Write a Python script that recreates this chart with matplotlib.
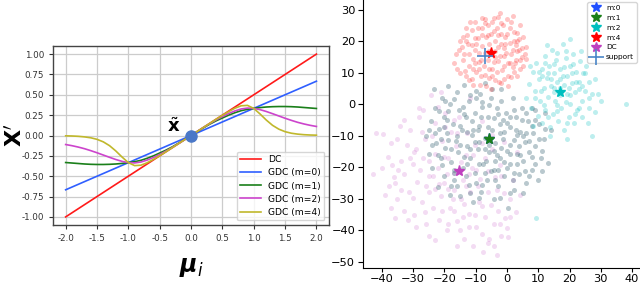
import matplotlib
matplotlib.use("Agg")
import matplotlib.pyplot as plt
import numpy as np

# ---------------- left panel data ----------------
dc_x = [-2.0, 2.0]
dc_y = [-1.0, 1.0]
m0_x = [-2.0, 2.0]
m0_y = [-0.667, 0.667]

curve_x = [-2.0, -1.9, -1.8, -1.7, -1.6, -1.5, -1.4, -1.3, -1.2, -1.1, -1.0,
           -0.9, -0.8, -0.7, -0.6, -0.5, -0.4, -0.3, -0.2, -0.1, 0.0,
           0.1, 0.2, 0.3, 0.4, 0.5, 0.6, 0.7, 0.8, 0.9, 1.0,
           1.1, 1.2, 1.3, 1.4, 1.5, 1.6, 1.7, 1.8, 1.9, 2.0]
m1_y = [-0.332, -0.338, -0.344, -0.350, -0.354, -0.356, -0.356, -0.354, -0.350, -0.343, -0.333,
        -0.322, -0.305, -0.280, -0.250, -0.215, -0.180, -0.140, -0.095, -0.048, 0.0,
        0.048, 0.095, 0.140, 0.180, 0.215, 0.250, 0.280, 0.305, 0.322, 0.333,
        0.343, 0.350, 0.354, 0.356, 0.356, 0.354, 0.350, 0.344, 0.338, 0.332]
m2_y = [-0.111, -0.125, -0.142, -0.162, -0.186, -0.212, -0.240, -0.268, -0.295, -0.318, -0.333,
        -0.337, -0.326, -0.302, -0.270, -0.233, -0.192, -0.147, -0.100, -0.050, 0.0,
        0.050, 0.100, 0.147, 0.192, 0.233, 0.270, 0.302, 0.326, 0.337, 0.333,
        0.318, 0.295, 0.268, 0.240, 0.212, 0.186, 0.162, 0.142, 0.125, 0.111]
m4_y = [-0.004, -0.006, -0.010, -0.017, -0.028, -0.047, -0.078, -0.125, -0.190, -0.265, -0.333,
        -0.370, -0.365, -0.335, -0.293, -0.248, -0.200, -0.150, -0.100, -0.050, 0.0,
        0.050, 0.100, 0.150, 0.200, 0.248, 0.293, 0.335, 0.365, 0.370, 0.333,
        0.265, 0.190, 0.125, 0.078, 0.047, 0.028, 0.017, 0.010, 0.006, 0.004]
legend_labels = ["DC", "GDC (m=0)", "GDC (m=1)", "GDC (m=2)", "GDC (m=4)"]
xticks_left = [-2.0, -1.5, -1.0, -0.5, 0.0, 0.5, 1.0, 1.5, 2.0]
yticks_left = [-1.0, -0.75, -0.5, -0.25, 0.0, 0.25, 0.5, 0.75, 1.0]

# ---------------- right panel data ----------------
red_pts = [(-16.8, 13.1), (-15.2, 17.4), (-14.1, 21.3), (-13.3, 10.6), (-12.4, 19.2), (-12.1, 7.8),
           (-11.2, 23.5), (-11.0, 14.3), (-10.3, 26.1), (-10.1, 17.2), (-9.8, 10.4), (-9.2, 21.1),
           (-9.0, 13.5), (-8.7, 6.2), (-8.1, 24.3), (-7.9, 18.4), (-8.2, 9.1), (-7.1, 27.2),
           (-6.8, 21.4), (-7.3, 12.2), (-6.6, 5.9), (-6.0, 25.1), (-5.8, 19.3), (-6.2, 14.2),
           (-5.9, 8.4), (-5.2, 22.4), (-4.8, 11.3), (-5.1, 4.9), (-4.1, 27.3), (-3.9, 20.2),
           (-4.2, 13.4), (-3.8, 7.7), (-3.1, 24.4), (-2.8, 18.3), (-3.2, 10.2), (-2.1, 29.1),
           (-1.9, 22.2), (-2.2, 15.4), (-1.8, 6.8), (-1.2, 25.3), (-0.8, 19.1), (-1.1, 12.2),
           (0.1, 22.4), (-0.2, 16.3), (0.3, 9.1), (1.2, 26.2), (0.9, 19.4), (1.1, 13.2),
           (2.2, 23.1), (1.8, 17.3), (2.1, 10.3), (3.1, 20.2), (2.9, 14.1), (4.2, 25.1),
           (3.8, 17.4), (4.1, 11.2), (5.2, 21.3), (4.9, 15.1), (6.1, 18.2), (-14.2, 14.1),
           (-13.1, 24.2), (-12.2, 16.1), (-10.8, 11.3), (-10.2, 21.2), (-9.1, 16.2), (-8.3, 14.1),
           (-8.1, 27.4), (-6.9, 16.3), (-6.2, 22.1), (-5.7, 11.1), (-4.8, 26.2), (-3.7, 17.1),
           (-4.3, 23.3), (-2.9, 13.8), (-2.7, 7.1), (-1.9, 19.2), (-1.7, 10.8), (-0.9, 15.2),
           (-0.6, 21.3), (0.2, 13.1), (0.1, 27.2), (1.3, 16.1), (1.2, 8.7), (2.3, 20.2),
           (2.4, 13.1), (3.3, 17.1), (3.2, 22.8), (4.3, 14.2), (-15.1, 9.8), (-16.2, 16.1),
           (-13.2, 20.1), (-11.3, 8.1), (-9.3, 24.2), (-10.1, 13.2), (-6.9, 9.2), (-2.8, 27.9),
           (0.2, 5.9), (5.1, 12.2), (-12.3, 12.3), (-14.3, 18.2), (-0.9, 8.2), (3.1, 8.9),
           (6.0, 14.3), (-16.1, 11.2), (-15.1, 20.1), (-13.1, 8.9), (-12.9, 22.1), (-11.1, 18.9),
           (-10.9, 6.1), (-9.9, 19.1), (-8.9, 11.1), (-7.9, 22.1), (-6.9, 25.9), (-5.9, 17.1),
           (-4.9, 8.9), (-3.9, 15.1), (-2.9, 21.9), (-1.9, 25.9), (-0.9, 17.9), (0.9, 24.1),
           (1.9, 11.9), (2.9, 18.9), (3.9, 20.9), (4.9, 17.9), (5.9, 16.1), (-13.9, 15.9),
           (-11.9, 26.1), (1.9, 28.1)]
cyan_pts = [(6.2, 2.1), (7.1, 6.3), (7.8, -1.2), (8.3, 10.2), (8.9, 4.1), (9.2, 13.1), (9.8, -3.8),
            (10.1, 7.9), (10.4, 1.2), (11.1, 11.2), (11.3, -5.9), (11.8, 5.1), (12.1, 15.3),
            (12.2, -1.8), (12.9, 8.4), (13.1, 2.2), (13.4, 12.1), (13.8, -7.1), (14.1, 5.8),
            (14.3, 17.2), (14.7, -3.1), (15.1, 10.1), (15.2, 0.9), (15.8, 14.2), (16.1, 7.2),
            (16.2, -5.2), (16.9, 2.9), (17.1, 11.3), (17.3, -1.1), (17.8, 19.1), (18.1, 6.1),
            (18.2, -8.2), (18.9, 14.8), (19.1, 3.2), (19.3, 9.1), (19.8, -3.9), (20.1, 12.2),
            (20.2, 0.1), (20.8, 6.9), (21.1, 16.1), (21.3, -6.1), (21.9, 3.8), (22.1, 10.3),
            (22.4, -1.9), (23.1, 7.2), (23.2, 13.9), (23.9, 1.1), (24.1, -4.1), (24.3, 9.8),
            (25.1, 4.2), (25.2, 12.1), (26.1, -1.2), (26.3, 7.1), (27.2, 3.3), (27.1, -10.2),
            (28.1, 8.1), (28.2, -2.3), (29.2, 3.4), (30.1, 1.2), (38.1, 0.1), (9.3, -36.2),
            (10.2, 10.3), (11.9, -0.3), (13.2, 9.9), (14.9, 3.9), (15.9, -2.1), (16.8, 5.1),
            (17.9, 8.9), (18.8, 0.8), (19.9, 5.1), (20.9, 9.9), (21.8, -3.2), (22.9, 4.9),
            (12.8, 18.9), (23.8, 17.1), (19.2, -10.9), (7.2, 12.1), (13.9, -10.1), (25.8, -5.8),
            (8.2, -6.9), (20.1, 20.6), (16.1, 16.4), (9.1, 1.9), (10.9, 4.1), (12.1, 13.1),
            (13.1, -3.9), (14.1, 8.1), (15.1, 12.9), (16.1, -0.1), (17.1, 7.9), (18.1, 11.9),
            (19.1, -6.1), (20.1, 2.9), (21.1, 12.9), (22.1, 7.1), (23.1, -1.1), (24.1, 5.9),
            (25.1, 9.9), (26.1, 1.9), (15.1, 5.1), (18.9, 16.9), (11.1, 8.9)]
slate_pts = [(-25.8, -10.2), (-25.1, -15.8), (-24.2, -5.3), (-23.9, -20.1), (-23.1, -1.2),
             (-22.8, -12.3), (-22.1, -26.2), (-21.9, -7.8), (-21.2, -17.1), (-20.9, 2.1),
             (-20.3, -3.9), (-20.1, -22.8), (-19.8, -13.9), (-19.2, -9.1), (-18.9, 5.8),
             (-18.2, -28.9), (-18.1, 0.2), (-17.8, -18.2), (-17.2, -6.2), (-16.9, -24.1),
             (-16.3, -11.8), (-16.1, 3.9), (-15.8, -15.1), (-15.2, -1.9), (-14.9, -29.2),
             (-14.3, -8.3), (-14.1, -20.2), (-13.8, 6.1), (-13.2, -4.1), (-12.9, -13.2),
             (-12.3, -25.8), (-12.1, 1.1), (-11.8, -17.1), (-11.2, -9.9), (-10.9, -31.2),
             (-10.3, -2.9), (-10.1, -21.9), (-9.8, 4.1), (-9.2, -14.1), (-8.9, -6.8),
             (-8.3, -27.9), (-8.1, -0.9), (-7.8, -18.9), (-7.2, -10.8), (-6.9, 6.9),
             (-6.3, -24.1), (-6.1, -3.9), (-5.8, -15.1), (-5.2, 2.1), (-4.9, -8.1),
             (-4.3, -30.1), (-4.1, -20.9), (-3.8, -12.2), (-3.2, -1.1), (-2.9, -26.1),
             (-2.3, -6.2), (-2.1, -17.1), (-1.8, 4.8), (-1.2, -10.9), (-0.9, -22.8),
             (-0.3, -2.9), (-0.1, -14.8), (0.2, -32.9), (0.8, -7.1), (1.1, -19.1),
             (1.8, 1.9), (2.1, -11.2), (2.3, -27.2), (2.9, -4.1), (3.2, -15.9),
             (3.8, -22.1), (4.1, -8.9), (4.8, -1.2), (5.1, -18.1), (5.9, -12.1),
             (6.2, -25.1), (6.8, -5.2), (7.1, -15.2), (7.9, -20.8), (8.2, -9.1),
             (8.8, -1.9), (9.1, -13.1), (9.9, -24.2), (10.2, -6.2), (10.9, -17.1),
             (11.8, -11.1), (12.1, -2.8), (13.2, -18.8), (14.1, -8.2), (-24.9, -8.1),
             (-22.2, -16.2), (-19.1, -5.1), (-17.9, -14.1), (-16.8, -20.9), (-15.1, -6.9),
             (-13.9, -16.9), (-12.8, -8.9), (-11.1, -5.2), (-10.2, -12.1), (-9.1, -19.1),
             (-8.2, -4.1), (-7.1, -14.2), (-6.2, -7.1), (-5.1, -21.1), (-4.2, -4.2),
             (-3.1, -16.1), (-2.2, -9.1), (-1.1, -18.2), (0.1, -6.1), (0.9, -12.9),
             (1.9, -24.1), (2.8, -8.2), (3.9, -13.1), (4.9, -5.1), (6.1, -9.1),
             (7.1, -11.8), (8.1, -16.9), (-18.8, -2.1), (-14.2, -0.9), (-9.9, 1.9),
             (-5.9, -0.2), (-1.9, 1.1), (2.1, -1.9), (-21.1, -10.9), (-13.1, -22.9),
             (-7.9, -25.8), (-3.9, -24.2), (0.9, -28.2), (5.1, -28.1), (-11.9, -28.2),
             (9.1, -5.1), (11.1, -21.2), (-16.1, -10.1), (-9.2, -8.2), (-4.1, -14.8),
             (1.1, -15.9), (5.9, -21.1), (-2.9, -20.9), (-6.8, -18.1), (-11.8, -14.2),
             (-20.2, -7.2), (-8.7, 3.2), (-1.2, -4.9), (3.1, -18.9), (7.9, -1.2),
             (-23.2, 4.9), (-24.1, -12.9), (-23.1, -9.2), (-21.8, -2.1), (-20.8, -19.2),
             (-19.9, 0.9), (-18.9, -11.2), (-17.1, -21.9), (-16.9, 1.8), (-15.9, -26.1),
             (-14.9, -12.9), (-13.8, -3.1), (-12.9, -19.1), (-11.9, 3.1), (-10.9, -8.1),
             (-9.9, -24.9), (-8.9, -11.9), (-7.9, 0.8), (-6.9, -21.9), (-5.9, -12.9),
             (-4.9, 4.9), (-3.9, -18.1), (-2.9, -3.1), (-1.9, -13.9), (-0.9, -8.9),
             (0.1, -20.1), (1.1, -3.9), (2.1, -21.9), (3.1, -9.9), (4.1, -16.1),
             (5.1, -10.1), (6.1, -2.9), (7.1, -22.9), (8.1, -6.9), (9.1, -19.1),
             (10.1, -10.9), (11.1, -14.9), (12.1, -7.9), (-17.9, -25.9), (-9.1, -29.9),
             (-2.1, -29.9)]
pink_pts = [(-42.8, -22.1), (-41.9, -9.1), (-39.8, -9.4), (-40.1, -20.2), (-38.2, -16.9),
            (-37.8, -26.1), (-37.1, -12.2), (-36.2, -23.1), (-35.8, -25.1), (-35.1, -30.1),
            (-34.2, -6.9), (-33.9, -17.9), (-33.1, -33.8), (-32.8, -22.1), (-32.1, -12.9),
            (-31.2, -27.8), (-30.9, -8.1), (-30.2, -19.1), (-29.8, -35.1), (-29.1, -14.2),
            (-28.8, -24.8), (-28.1, -4.1), (-27.2, -30.9), (-26.9, -17.1), (-26.2, -11.1),
            (-25.8, -38.1), (-25.1, -22.9), (-24.9, -27.9), (-24.2, 3.1), (-23.8, -33.1),
            (-23.1, -15.9), (-22.9, -6.1), (-22.1, -20.1), (-21.8, -36.9), (-21.2, -29.1),
            (-20.9, -11.8), (-20.1, -24.9), (-19.8, -2.9), (-19.1, -40.1), (-18.9, -17.1),
            (-18.2, -32.9), (-17.9, -8.9), (-17.1, -27.1), (-16.8, -21.9), (-16.2, -13.1),
            (-15.9, -37.2), (-15.2, -4.1), (-14.8, -30.1), (-14.1, -24.1), (-13.8, -42.9),
            (-13.2, -16.1), (-12.9, -9.1), (-12.1, -34.9), (-11.8, -27.9), (-11.2, -20.1),
            (-10.9, -45.1), (-10.1, -12.9), (-9.8, -39.1), (-9.1, -30.9), (-8.8, -23.8),
            (-8.1, -5.2), (-7.8, -47.1), (-7.2, -35.9), (-6.9, -17.1), (-6.1, -27.9),
            (-5.8, -42.9), (-5.1, -31.9), (-4.9, -9.9), (-4.1, -38.1), (-3.8, -23.1),
            (-3.2, -47.9), (-2.9, -33.9), (-2.1, -19.2), (-1.8, -41.8), (-1.1, -28.2),
            (-0.8, -36.1), (0.1, -39.2), (0.2, -42.3), (1.1, -30.1), (1.8, -24.2),
            (2.9, -34.1), (3.2, -15.1), (4.1, -28.9), (-27.8, -20.8), (-25.9, -25.9),
            (-24.1, -10.1), (-21.9, -25.2), (-20.2, -16.8), (-19.1, -22.1), (-17.2, -30.2),
            (-15.9, -9.2), (-14.8, -18.2), (-13.1, -25.9), (-12.2, -38.9), (-10.8, -16.2),
            (-9.2, -26.1), (-8.1, -32.2), (-6.2, -21.1), (-4.8, -14.1), (-3.1, -27.1),
            (-1.9, -22.9), (-22.9, -43.1), (-26.1, -34.1), (-30.1, -29.9), (-33.8, -27.1),
            (-36.9, -19.2), (-16.1, -44.9), (-11.9, 1.9), (-19.9, -7.1), (-28.1, -1.1),
            (-29.9, -15.1), (-31.8, -36.9), (-35.1, -11.1), (-21.1, 3.9), (-7.9, -12.2),
            (-6.1, -44.1), (-0.9, -12.1), (-18.8, -26.8), (-23.8, -22.9), (-9.9, -20.9),
            (-13.9, -31.8), (-38.9, -28.8), (-34.9, -20.9), (-31.1, -17.1), (-27.1, -8.9),
            (-25.1, -17.9), (-23.1, -26.9), (-20.9, -33.9), (-18.9, -37.9), (-16.9, -33.9),
            (-14.9, -40.1), (-12.1, -22.1), (-10.1, -35.1), (-8.1, -41.1), (-4.1, -45.1),
            (-2.1, -37.9), (0.9, -35.9), (-32.9, -4.9), (-26.9, -1.9), (-22.1, -0.9),
            (-17.1, -5.1), (-35.9, -36.1), (-29.1, -39.1), (-24.9, -41.9), (-37.1, -32.9),
            (-14.1, -35.8)]

star_labels = ["m:0", "m:1", "m:2", "m:4", "DC"]
star_x = [-5.8, -5.8, 17.0, -5.0, -15.5]
star_y = [-11.0, -11.0, 3.8, 16.2, -21.2]
star_colors = ["#1f4fff", "#1a7f1a", "#00bfbf", "#ff0000", "#bf40bf"]
support_x = [-7.0]
support_y = [15.5]
xticks_right = [-40, -30, -20, -10, 0, 10, 20, 30, 40]
yticks_right = [-50, -40, -30, -20, -10, 0, 10, 20, 30]

# ---------------- figure ----------------
fig = plt.figure(figsize=(6.4, 2.82), dpi=100)

# Left panel
ax1 = fig.add_axes([0.083, 0.202, 0.431, 0.635])
ax1.grid(True, color="#cccccc", linewidth=0.9)
ax1.set_axisbelow(True)
ax1.plot(dc_x, dc_y, color="#ff1a1a", lw=1.2, label=legend_labels[0])
ax1.plot(m0_x, m0_y, color="#2f5fff", lw=1.2, label=legend_labels[1])
ax1.plot(curve_x, m1_y, color="#1a7f1a", lw=1.2, label=legend_labels[2])
ax1.plot(curve_x, m2_y, color="#cc44cc", lw=1.2, label=legend_labels[3])
ax1.plot(curve_x, m4_y, color="#c0b82c", lw=1.2, label=legend_labels[4])
ax1.plot([0.0], [0.0], "o", color="#4a78c8", markersize=8, zorder=5)
ax1.text(-0.28, 0.11, r"$\tilde{\mathbf{x}}$", fontsize=13, ha="center", va="center")
ax1.set_xlim(-2.2, 2.2)
ax1.set_ylim(-1.1, 1.1)
ax1.set_xticks(xticks_left)
ax1.set_yticks(yticks_left)
ax1.set_xticklabels([f"{v:.1f}" for v in xticks_left])
ax1.set_yticklabels([f"{v:.2f}" for v in yticks_left])
ax1.tick_params(labelsize=6.3, colors="#333333", length=3)
for sp in ax1.spines.values():
    sp.set_color("#444444")
    sp.set_linewidth(1.0)
ax1.set_xlabel(r"$\boldsymbol{\mu}_i$", fontsize=17)
ax1.xaxis.set_label_coords(0.5, -0.165)
ax1.set_ylabel(r"$\mathbf{X}'$", fontsize=16)
ax1.yaxis.set_label_coords(-0.098, 0.50)
leg1 = ax1.legend(loc="lower right", fontsize=6.6, frameon=True, borderpad=0.4,
                  handlelength=2.2, labelspacing=0.45, fancybox=True)
leg1.get_frame().set_edgecolor("#cccccc")

# Right panel
ax2 = fig.add_axes([0.567, 0.050, 0.447, 0.965])
for pts, col, a in [(pink_pts, "#bf40bf", 0.18), (slate_pts, "#3d6878", 0.36),
                    (red_pts, "#ff2020", 0.26), (cyan_pts, "#00bfbf", 0.26)]:
    xs = [p[0] for p in pts]
    ys = [p[1] for p in pts]
    ax2.scatter(xs, ys, s=13, color=col, alpha=a, linewidths=0)
for lab, sx, sy, c in zip(star_labels, star_x, star_y, star_colors):
    ax2.plot([sx], [sy], "*", color=c, markersize=8, label=lab, linestyle="none")
ax2.plot(support_x, support_y, "+", color="#4a86c8", markersize=12, markeredgewidth=1.2,
         label="support", linestyle="none")
ax2.set_xlim(-46.1, 45.4)
ax2.set_ylim(-52.0, 34.5)
ax2.set_xticks(xticks_right)
ax2.set_yticks(yticks_right)
ax2.tick_params(axis="x", labelsize=8.2, length=3, pad=1.2)
ax2.tick_params(axis="y", labelsize=8.2, length=3.5, pad=2)
leg2 = ax2.legend(loc="upper right", bbox_to_anchor=(0.997, 0.997),
                  bbox_transform=fig.transFigure, fontsize=5.3, markerscale=0.95,
                  borderpad=0.35, labelspacing=0.5, handlelength=1.6, handletextpad=0.6,
                  borderaxespad=0.2)

fig.savefig("out.png", dpi=100)
